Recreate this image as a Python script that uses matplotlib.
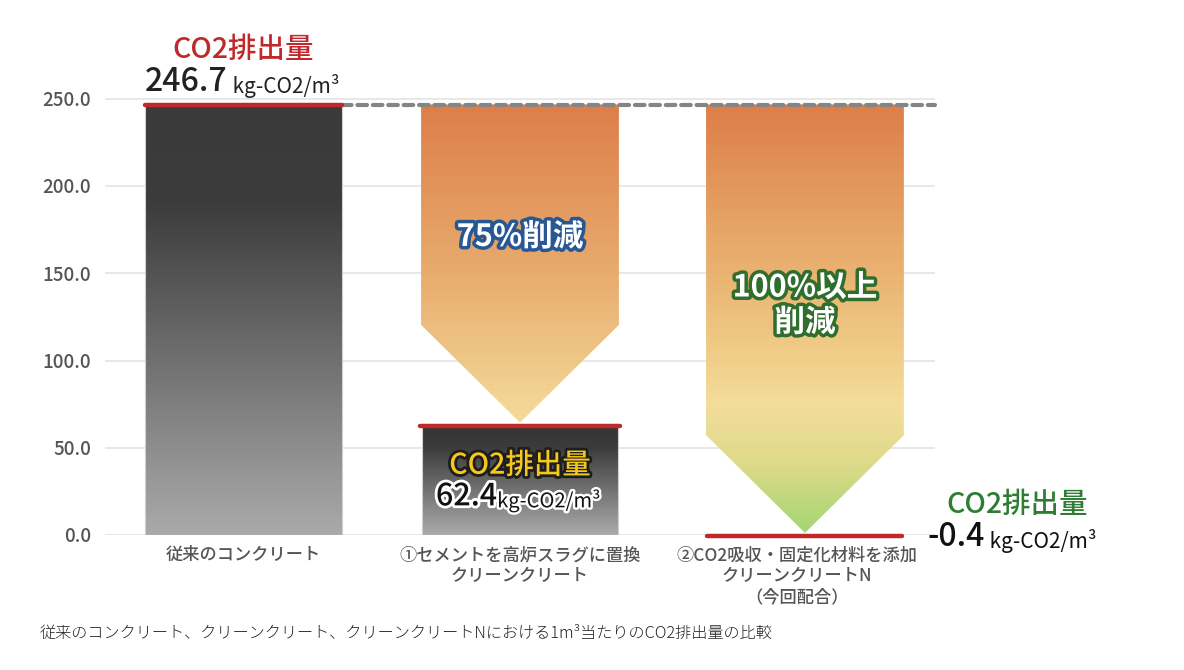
import numpy as np
import matplotlib
matplotlib.use('Agg')
import matplotlib.pyplot as plt
from matplotlib.patches import Polygon
from matplotlib.colors import to_rgb
import matplotlib.patheffects as pe

FONTS = ['Noto Sans CJK JP', 'DejaVu Sans']
plt.rcParams['font.family'] = FONTS

# ---------------- data ----------------
categories = ['従来のコンクリート',
              '①セメントを高炉スラグに置換\nクリーンクリート',
              '②CO2吸収・固定化材料を添加\nクリーンクリートN\n（今回配合）']
emissions = [246.7, 62.4, -0.4]
emission_labels = ['246.7', '62.4', '-0.4']
reduction_labels = ['', '75%削減', '100%以上\n削減']
y_ticks = [0, 50, 100, 150, 200, 250]
unit = 'kg-CO2/m³'
title_word = 'CO2排出量'
caption = '従来のコンクリート、クリーンクリート、クリーンクリートNにおける1m³当たりのCO2排出量の比較'

# ---------------- layout ----------------
W, H = 1184, 670
fig = plt.figure(figsize=(W / 100, H / 100), dpi=100)
ax_l, ax_r, ax_b, ax_t = 105, 935, 535, 81.3
ax = fig.add_axes([ax_l / W, 1 - ax_b / H, (ax_r - ax_l) / W, (ax_b - ax_t) / H])

positions = [0, 1, 2]
arrow_pos = [None, 1.0, 2.03]
BAR_W = 0.71
ARROW_W = 0.715
HEAD = 56.0
RED = '#c0282a'


def vgrad(clip_patch, x0, x1, y0, y1, stops, zorder, alpha=1.0):
    n = 300
    ys = np.linspace(y0, y1, n)
    vals = np.array([s[0] for s in stops])
    cols = np.array([to_rgb(s[1]) for s in stops])
    o = np.argsort(vals)
    chans = [np.interp(ys, vals[o], cols[o, k]) for k in range(3)]
    img = np.stack(chans, axis=-1)[:, None, :]
    im = ax.imshow(img, extent=(x0, x1, y0, y1), origin='lower', aspect='auto',
                   interpolation='bilinear', zorder=zorder, alpha=alpha)
    im.set_clip_path(clip_patch)
    return im


# bars (conventional & slag)
bars = ax.bar(positions[:2], emissions[:2], width=BAR_W, color='none',
              edgecolor='#cfcfcf', linewidth=0.8, zorder=2.2)
bar_stops = [
    [(emissions[0], '#3a3a3a'), (190, '#3c3c3c'), (0, '#aaaaaa')],
    [(emissions[1], '#343434'), (50, '#3c3c3c'), (0, '#ababab')],
]
for b, p, v, st in zip(bars, positions[:2], emissions[:2], bar_stops):
    vgrad(b, p - BAR_W / 2, p + BAR_W / 2, 0, v, st, zorder=2)

# reduction arrows
arrow_stops = {
    1: [(emissions[0], '#dc7841'), (150, '#e7a867'), (62, '#f5dc98')],
    2: [(emissions[0], '#dc7841'), (170, '#e6a461'), (100, '#f1cd85'),
        (75, '#f4dc96'), (40, '#dcd985'), (0, '#9dd56d')],
}
arrow_gap = {1: 2.0, 2: 1.6}
for i in (1, 2):
    cx = arrow_pos[i]
    top = emissions[0]
    tip = emissions[i] + arrow_gap[i]
    sh = tip + HEAD
    verts = [(cx - ARROW_W / 2, top), (cx + ARROW_W / 2, top),
             (cx + ARROW_W / 2, sh), (cx, tip), (cx - ARROW_W / 2, sh)]
    poly = Polygon(verts, closed=True, facecolor='none', edgecolor='none', zorder=2)
    ax.add_patch(poly)
    vgrad(poly, cx - ARROW_W / 2, cx + ARROW_W / 2, tip, top, arrow_stops[i],
          zorder=2, alpha=0.96)

# dashed baseline
ax.plot([positions[0] + BAR_W / 2, 2.5], [emissions[0]] * 2, color='#858585',
        lw=3.0, linestyle=(0, (2.3, 1.4)), dash_capstyle='round', zorder=4,
        clip_on=False)

# red level lines
red_x = [positions[0], positions[1], arrow_pos[2]]
red_w = [BAR_W, 0.725, 0.705]
lc = ax.hlines(emissions, [x - w / 2 for x, w in zip(red_x, red_w)],
               [x + w / 2 for x, w in zip(red_x, red_w)], colors=RED, lw=3.2,
               zorder=5, clip_on=False)
lc.set_capstyle('round')

# axes styling
ax.set_xlim(-0.5, 2.5)
ax.set_ylim(0, 260)
ax.set_yticks(y_ticks, [f'{v:.1f}' for v in y_ticks])
ax.set_xticks(positions, categories)
ax.yaxis.grid(True, color='#e6e6e6', lw=1.3)
ax.set_axisbelow(True)
for s in ax.spines.values():
    s.set_visible(False)
ax.tick_params(axis='both', length=0)
ax.tick_params(axis='y', labelsize=13.5, labelcolor='#555555', pad=10)
ax.tick_params(axis='x', labelsize=12.4, labelcolor='#555555', pad=8)
for t in ax.get_yticklabels():
    t.set_fontweight('medium')
for t in ax.get_xticklabels():
    t.set_linespacing(1.22)
    t.set_fontweight('medium')

# ---- annotations ----
NUM = 23
UNIT = 15
WORD = 20.5

# top: conventional
ax.text(positions[0], 278, title_word, color=RED, fontsize=WORD,
        fontweight='medium', ha='center', va='center', clip_on=False)
t1 = ax.text(positions[0] - BAR_W / 2, 254.6, emission_labels[0], color='#222222',
             fontsize=NUM, fontweight='medium', ha='left', va='baseline', clip_on=False)
ax.annotate(' ' + unit, xy=(1, 0), xycoords=t1, color='#222222', fontsize=UNIT,
            ha='left', va='bottom')

# slag bar labels
ax.text(positions[1], 40, title_word, color='#f5c81e', fontsize=WORD,
        fontweight='medium', ha='center', va='center',
        path_effects=[pe.withStroke(linewidth=4, foreground='#1e1e1e')], zorder=6)
t2 = ax.text(0.696, 17.0, emission_labels[1], color='#111111', fontsize=NUM - 1,
             fontweight='medium', ha='left', va='baseline', zorder=6,
             path_effects=[pe.withStroke(linewidth=4, foreground='white')])
ax.annotate(unit, xy=(1, 0), xycoords=t2, color='#111111', fontsize=UNIT - 0.5,
            ha='left', va='bottom', zorder=6,
            path_effects=[pe.withStroke(linewidth=3.5, foreground='white')])

# right label for N
ax.text(2.796, 17.2, title_word, color='#2e7d32', fontsize=WORD,
        fontweight='medium', ha='center', va='center', clip_on=False)
t3 = ax.text(2.474, -6.3, emission_labels[2], color='#111111', fontsize=NUM,
             fontweight='medium', ha='left', va='baseline', clip_on=False)
ax.annotate(' ' + unit, xy=(1, 0), xycoords=t3, color='#111111', fontsize=UNIT,
            ha='left', va='bottom')

# reduction labels
ax.text(arrow_pos[1], 170.8, reduction_labels[1], color='white', fontsize=22,
        fontweight='bold', ha='center', va='center', zorder=6,
        path_effects=[pe.withStroke(linewidth=5, foreground='#285894')])
ax.text(arrow_pos[2], 131.8, reduction_labels[2], color='white', fontsize=22,
        fontweight='bold', ha='center', va='center', zorder=6, linespacing=1.12,
        path_effects=[pe.withStroke(linewidth=5, foreground='#2f6e2c')])

# caption
fig.text(40 / W, 1 - 633 / H, caption, color='#222222', fontsize=11.6,
         fontweight='light', ha='left', va='center')

fig.savefig('out.png', dpi=100)
